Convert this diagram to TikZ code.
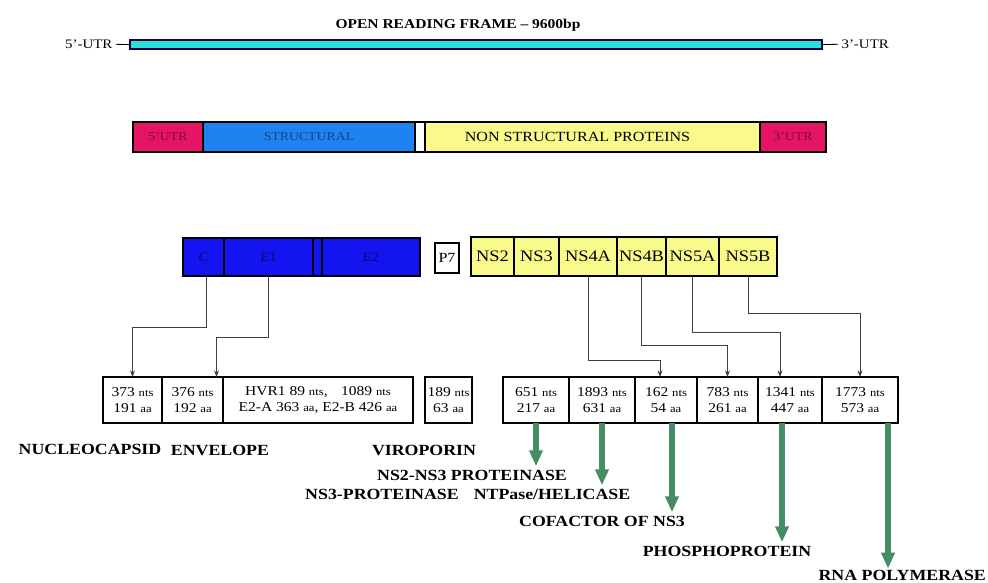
\documentclass[tikz,border=0pt]{standalone}
\usepackage{fontspec}
\setmainfont{Liberation Serif}[FakeStretch=1.15]
\usetikzlibrary{arrows.meta,calc,positioning}
\definecolor{orfcyan}{RGB}{40,225,215}
\definecolor{utrpink}{RGB}{230,20,100}
\definecolor{strblue}{RGB}{30,130,240}
\definecolor{nsyellow}{RGB}{250,250,140}
\definecolor{deepblue}{RGB}{20,20,240}
\definecolor{protgreen}{RGB}{70,140,100}
\newcommand{\un}[1]{{\fontsize{11}{12}\selectfont #1}}

\begin{document}
\begin{tikzpicture}[x=1pt,y=-1pt,>=Stealth,
  box/.style={draw,line width=1.2pt,inner sep=0pt,outer sep=0pt,anchor=north west,align=center},
  lbl/.style={font=\fontsize{15.5}{17}\selectfont\bfseries},
  cellt/.style={font=\fontsize{13.5}{16}\selectfont},
  link/.style={->,line width=0.8pt,black!75},
  garrow/.style={-{Triangle[length=16pt,width=13pt]},line width=6pt,draw=protgreen}]
  \useasboundingbox[fill=white] (0,0) rectangle (988,582);

  % open reading frame
  \node[font=\fontsize{13.5}{15}\selectfont\bfseries] (orf) at (458,25) {OPEN READING FRAME -- 9600bp};
  \node[font=\fontsize{13}{15}\selectfont,anchor=east] (utr5) at (116,44) {5'-UTR};
  \node[box,fill=orfcyan,draw=black!70!blue,minimum width=692pt,minimum height=9pt] (orfbar) at (130,40) {};
  \node[font=\fontsize{13}{15}\selectfont,anchor=west] (utr3) at (838,44) {3'-UTR};
  \draw[line width=0.8pt] (utr5) -- (orfbar.west);
  \draw[line width=0.8pt] (orfbar.east) -- (utr3);

  % genome regions
  \node[box,line width=2pt,fill=utrpink,minimum width=70pt,minimum height=30pt,text=utrpink!55!black,font=\fontsize{12}{14}\selectfont] (reg5) at (133,122) {5'UTR};
  \node[box,line width=2pt,fill=strblue,minimum width=212pt,minimum height=30pt,text=strblue!55!black,font=\fontsize{12}{14}\selectfont,right=0pt of reg5] (regstr) {STRUCTURAL};
  \node[box,line width=2pt,fill=white,minimum width=10pt,minimum height=30pt,right=0pt of regstr] (reggap) {};
  \node[box,line width=2pt,fill=nsyellow,minimum width=335pt,minimum height=30pt,font=\fontsize{14}{16}\selectfont,right=0pt of reggap] (regns) {NON STRUCTURAL PROTEINS\hspace{30pt}};
  \node[box,line width=2pt,fill=utrpink,minimum width=66pt,minimum height=30pt,text=utrpink!55!black,font=\fontsize{12}{14}\selectfont,right=0pt of regns] (reg3) {3'UTR};

  % proteins
  \node[box,fill=deepblue,minimum width=41pt,minimum height=38pt,text=deepblue!45!black,font=\fontsize{13}{15}\selectfont] (pc) at (183,238) {C};
  \node[box,fill=deepblue,minimum width=89pt,minimum height=38pt,text=deepblue!45!black,font=\fontsize{13}{15}\selectfont,right=0pt of pc] (pe1) {E1};
  \node[box,fill=deepblue,minimum width=9pt,minimum height=38pt,right=0pt of pe1] (phv) {};
  \node[box,fill=deepblue,minimum width=98pt,minimum height=38pt,text=deepblue!45!black,font=\fontsize{13}{15}\selectfont,right=0pt of phv] (pe2) {E2};
  \node[box,fill=white,minimum width=24pt,minimum height=30pt,font=\fontsize{14}{16}\selectfont] (pp7) at (435,243) {P7};
  \node[box,fill=nsyellow,minimum width=43pt,minimum height=39pt,font=\fontsize{16}{18}\selectfont] (ns2) at (471,237) {NS2};
  \node[box,fill=nsyellow,minimum width=45pt,minimum height=39pt,font=\fontsize{16}{18}\selectfont,right=0pt of ns2] (ns3) {NS3};
  \node[box,fill=nsyellow,minimum width=58pt,minimum height=39pt,font=\fontsize{16}{18}\selectfont,right=0pt of ns3] (ns4a) {NS4A};
  \node[box,fill=nsyellow,minimum width=49pt,minimum height=39pt,font=\fontsize{16}{18}\selectfont,right=0pt of ns4a] (ns4b) {NS4B};
  \node[box,fill=nsyellow,minimum width=53pt,minimum height=39pt,font=\fontsize{16}{18}\selectfont,right=0pt of ns4b] (ns5a) {NS5A};
  \node[box,fill=nsyellow,minimum width=58pt,minimum height=39pt,font=\fontsize{16}{18}\selectfont,right=0pt of ns5a] (ns5b) {NS5B};

  % sizes
  \node[box,cellt,minimum width=59pt,minimum height=46pt] (sc) at (103,377) {373 \un{nts}\\191 \un{aa}};
  \node[box,cellt,minimum width=61pt,minimum height=46pt,right=0pt of sc] (se1) {376 \un{nts}\\192 \un{aa}};
  \node[box,cellt,minimum width=190pt,minimum height=46pt,right=0pt of se1] (se2) {HVR1 89 \un{nts},\quad 1089 \un{nts}\\E2-A 363 \un{aa}, E2-B 426 \un{aa}};
  \node[box,cellt,minimum width=47pt,minimum height=46pt] (sp7) at (425,377) {189 \un{nts}\\63 \un{aa}};
  \node[box,cellt,minimum width=66pt,minimum height=46pt] (sns2) at (503,377) {651 \un{nts}\\217 \un{aa}};
  \node[box,cellt,minimum width=66pt,minimum height=46pt,right=0pt of sns2] (sns3) {1893 \un{nts}\\631 \un{aa}};
  \node[box,cellt,minimum width=62pt,minimum height=46pt,right=0pt of sns3] (sns4a) {162 \un{nts}\\54 \un{aa}};
  \node[box,cellt,minimum width=61pt,minimum height=46pt,right=0pt of sns4a] (sns4b) {783 \un{nts}\\261 \un{aa}};
  \node[box,cellt,minimum width=64pt,minimum height=46pt,right=0pt of sns4b] (sns5a) {1341 \un{nts}\\447 \un{aa}};
  \node[box,cellt,minimum width=76pt,minimum height=46pt,right=0pt of sns5a] (sns5b) {1773 \un{nts}\\573 \un{aa}};

  \draw[link] ([xshift=3pt]pc.south) -- ++(0,51) -| (sc.north);
  \draw[link] (pe1.south) -- ++(0,61) -| ([xshift=24pt]se1.north);
  \draw[link] (ns4a.south) -- ++(0,84) -| ([xshift=-6pt]sns4a.north);
  \draw[link] (ns4b.south) -- ++(0,69) -| (sns4b.north);
  \draw[link] (ns5a.south) -- ++(0,56) -| ([xshift=-10pt]sns5a.north);
  \draw[link] (ns5b.south) -- ++(0,37) -| (sns5b.north);

  % functions
  \node[lbl] (fnuc) at (90,449) {NUCLEOCAPSID};
  \node[lbl] (fenv) at (220,450) {ENVELOPE};
  \node[lbl] (fvir) at (424,450) {VIROPORIN};
  \node[lbl] (fprot) at (472,475) {NS2-NS3 PROTEINASE};
  \node[lbl] (fns3) at (382,494) {NS3-PROTEINASE};
  \node[lbl] (fhel) at (552,494) {NTPase/HELICASE};
  \node[lbl] (fcof) at (602,521) {COFACTOR OF NS3};
  \node[lbl] (fpho) at (727,551) {PHOSPHOPROTEIN};
  \node[lbl,anchor=east,inner sep=1pt] (frna) at (987,575) {RNA POLYMERASE};

  \draw[garrow] (sns2.south) -- (sns2.south |- fprot.north);
  \draw[garrow] (sns3.south) -- (sns3.south |- fhel.north);
  \draw[garrow] ([xshift=6pt]sns4a.south) -- ([xshift=6pt]sns4a.south |- fcof.north);
  \draw[garrow] ([xshift=-8pt]sns5a.south) -- ([xshift=-8pt]sns5a.south |- fpho.north);
  \draw[garrow] ([xshift=28pt]sns5b.south) -- ([xshift=28pt]sns5b.south |- frna.north);
\end{tikzpicture}
\end{document}
